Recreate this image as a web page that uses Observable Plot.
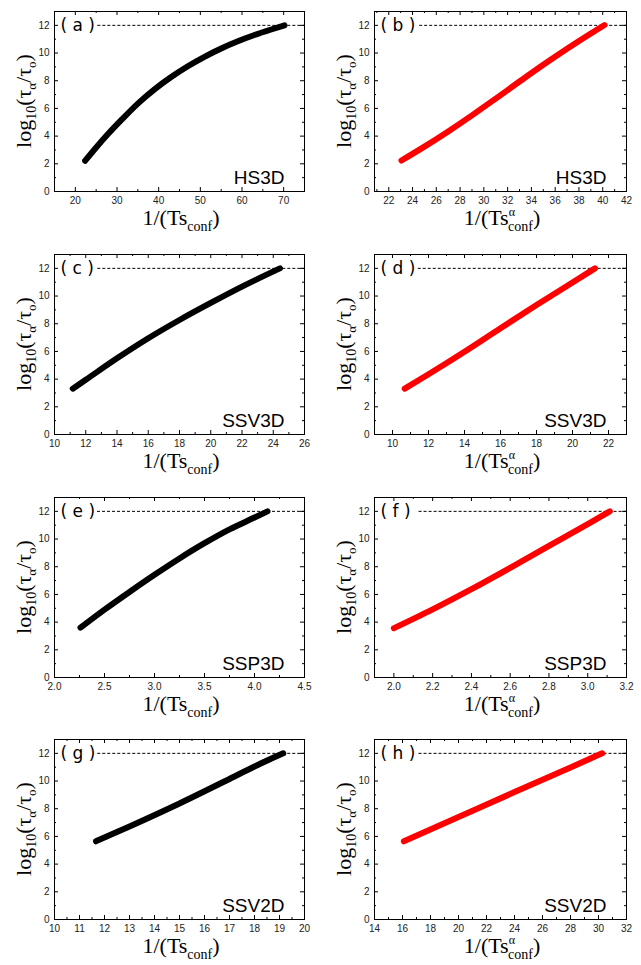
<!DOCTYPE html>
<html><head><meta charset="utf-8">
<script src="https://cdn.jsdelivr.net/npm/d3@7"></script>
<script src="https://cdn.jsdelivr.net/npm/@observablehq/plot@0.6"></script>
<style>
body{margin:0;background:#fff;}
#wrap{position:relative;width:641px;height:965px;background:#fff;}
#wrap svg{position:absolute;}
</style></head><body><div id="wrap"></div>
<script>
// ---- data ----
const panelLabels = ["( a )", "( b )", "( c )", "( d )", "( e )", "( f )", "( g )", "( h )"];
const systems = ["HS3D", "HS3D", "SSV3D", "SSV3D", "SSP3D", "SSP3D", "SSV2D", "SSV2D"];

const xA = [22.35, 25, 28, 31, 35, 39, 43, 47, 51, 55, 59, 63, 67, 70.2];
const yA = [2.22, 3.18, 4.2, 5.15, 6.35, 7.38, 8.27, 9.05, 9.73, 10.33, 10.85, 11.3, 11.7, 12.0];
const xB = [23.07, 25, 27, 29, 31, 33, 35, 37, 39, 40.15];
const yB = [2.24, 3.24, 4.34, 5.5, 6.71, 7.94, 9.15, 10.31, 11.41, 12.02];
const xC = [11.17, 12, 14, 16, 18, 20, 22, 24.43];
const yC = [3.31, 3.95, 5.5, 6.95, 8.27, 9.5, 10.68, 12.0];
const xD = [10.68, 12, 14, 16, 18, 20, 21.25];
const yD = [3.31, 4.35, 5.98, 7.68, 9.35, 10.98, 12.0];
const xE = [2.26, 2.5, 2.75, 3.0, 3.25, 3.5, 3.75, 4.0, 4.13];
const yE = [3.6, 4.9, 6.18, 7.42, 8.6, 9.7, 10.7, 11.55, 12.0];
const xF = [2.0, 2.2, 2.4, 2.6, 2.8, 3.0, 3.114];
const yF = [3.56, 4.92, 6.38, 7.92, 9.5, 11.08, 12.0];
const xG = [11.66, 13, 15, 17, 18, 19.15];
const yG = [5.65, 6.72, 8.38, 10.15, 11.05, 12.0];
const xH = [16.1, 20, 24, 28, 30.26];
const yH = [5.65, 7.4, 9.2, 10.98, 12.0];

const seriesX = [xA, xB, xC, xD, xE, xF, xG, xH];
const seriesY = [yA, yB, yC, yD, yE, yF, yG, yH];

// dashed reference level log10(tau/tau0) = 12, starting after the panel label
const refLevel = 12;
const dashStart = [25.4, 24.6, 12.77, 11.43, 2.43, 2.13, 11.73, 17.18];

// axis ranges and tick labels
const xDomains = [[15, 75], [20.8, 42], [10, 26], [9, 23], [2, 4.5], [1.9, 3.2], [10, 20], [14, 32]];
const xTicks = [
  [20, 30, 40, 50, 60, 70],
  [22, 24, 26, 28, 30, 32, 34, 36, 38, 40, 42],
  [10, 12, 14, 16, 18, 20, 22, 24, 26],
  [10, 12, 14, 16, 18, 20, 22],
  [2.0, 2.5, 3.0, 3.5, 4.0, 4.5],
  [2.0, 2.2, 2.4, 2.6, 2.8, 3.0, 3.2],
  [10, 11, 12, 13, 14, 15, 16, 17, 18, 19, 20],
  [14, 16, 18, 20, 22, 24, 26, 28, 30, 32]
];
const xTickFormats = [null, null, null, null, ".1f", ".1f", null, null];
const yDomain = [0, 13];
const yTicks = [0, 2, 4, 6, 8, 10, 12];
const colors = ["#000000", "#ff0000", "#000000", "#ff0000", "#000000", "#ff0000", "#000000", "#ff0000"];

// ---- layout ----
const rowTop = [0, 243, 486, 728];
const colLeft = [0, 320];
const colWidth = [320, 321];
const colRight = [16, 15];
const mTop = 11, mBottom = 51, mLeft = 54, H = 242;

function minors(ticks, domain) {
  const step = ticks[1] - ticks[0];
  const out = [];
  for (let k = -1; k < ticks.length; k++) {
    const v = ticks[0] + (k + 0.5) * step;
    if (v >= domain[0] - 1e-9 && v <= domain[1] + 1e-9) out.push(+v.toFixed(6));
  }
  return out;
}

const wrap = document.getElementById("wrap");
for (let i = 0; i < 8; i++) {
  const col = i % 2, row = Math.floor(i / 2);
  const width = colWidth[col];
  const frameW = width - mLeft - colRight[col];
  const frameH = H - mTop - mBottom;
  const xMaj = xTicks[i], xMin = minors(xMaj, xDomains[i]);
  const yMin = minors(yTicks, yDomain);
  const fmt = xTickFormats[i] ? d3.format(xTickFormats[i]) : d3.format("d");
  const major = 4, minor = 2;

  const svg = Plot.plot({
    width, height: H,
    marginTop: mTop, marginBottom: mBottom, marginLeft: mLeft, marginRight: colRight[col],
    style: {fontFamily: "Liberation Sans, Arial, sans-serif", fontSize: "10px", color: "#222", background: "#fff"},
    x: {domain: xDomains[i]},
    y: {domain: yDomain},
    marks: [
      Plot.ruleY([refLevel], {x1: dashStart[i], x2: xDomains[i][1], stroke: "#000", strokeWidth: 1, strokeDasharray: "3,2"}),
      Plot.line(seriesY[i], {x: seriesX[i], y: seriesY[i], stroke: colors[i], strokeWidth: 6, strokeLinecap: "round", strokeLinejoin: "round", curve: "monotone-x"}),
      // inward ticks on all four sides
      Plot.ruleX(xMaj, {insetTop: frameH - major, stroke: "#000"}),
      Plot.ruleX(xMin, {insetTop: frameH - minor, stroke: "#000"}),
      Plot.ruleX(xMaj, {insetBottom: frameH - major, stroke: "#000"}),
      Plot.ruleX(xMin, {insetBottom: frameH - minor, stroke: "#000"}),
      Plot.ruleY(yTicks, {insetRight: frameW - major, stroke: "#000"}),
      Plot.ruleY(yMin, {insetRight: frameW - minor, stroke: "#000"}),
      Plot.ruleY(yTicks, {insetLeft: frameW - major, stroke: "#000"}),
      Plot.ruleY(yMin, {insetLeft: frameW - minor, stroke: "#000"}),
      Plot.frame({stroke: "#000", strokeWidth: 1}),
      Plot.axisX({ticks: xMaj, tickSize: 0, tickPadding: 5, tickFormat: fmt, label: null}),
      Plot.axisY({ticks: yTicks, tickSize: 0, tickPadding: 5, tickFormat: d3.format("d"), label: null}),
      Plot.text([panelLabels[i]], {y: [refLevel], frameAnchor: "left", dx: 6, textAnchor: "start", fontSize: 17, fontFamily: "DejaVu Sans", fill: "#000"}),
      Plot.text([systems[i]], {frameAnchor: "bottom-right", dx: -20, dy: -8, textAnchor: "end", lineAnchor: "bottom", fontSize: 19, fontFamily: "Liberation Sans", fill: "#000"})
    ]
  });
  svg.style.left = colLeft[col] + "px";
  svg.style.top = rowTop[row] + "px";

  const s = d3.select(svg);
  const serif = "Liberation Serif, Times New Roman, serif";
  // x-axis title
  const xt = s.append("text")
    .attr("x", mLeft + frameW / 2 + 2).attr("y", mTop + frameH + 34)
    .attr("text-anchor", "middle").attr("fill", "#000")
    .style("font-family", serif).style("font-size", "22px");
  xt.append("tspan").text("1/(Ts");
  if (col === 1) {
    xt.append("tspan").style("font-size", "12px").attr("dy", -9).text("α");
    xt.append("tspan").style("font-size", "14px").attr("dx", -7).attr("dy", 15).text("conf");
    xt.append("tspan").attr("dy", -6).text(")");
  } else {
    xt.append("tspan").style("font-size", "14px").attr("dy", 6).text("conf");
    xt.append("tspan").attr("dy", -6).text(")");
  }
  // y-axis title
  const yt = s.append("text")
    .attr("transform", `translate(31,${mTop + frameH / 2}) rotate(-90)`)
    .attr("text-anchor", "middle").attr("fill", "#000")
    .style("font-family", serif).style("font-size", "22px");
  yt.append("tspan").text("log");
  yt.append("tspan").style("font-size", "14px").attr("dy", 5).text("10");
  yt.append("tspan").attr("dy", -5).text("(τ");
  yt.append("tspan").style("font-size", "13px").attr("dy", 5).text("α");
  yt.append("tspan").attr("dy", -5).text("/τ");
  yt.append("tspan").style("font-size", "13px").attr("dy", 5).text("o");
  yt.append("tspan").attr("dy", -5).text(")");

  wrap.appendChild(svg);
}
</script>
</body></html>
